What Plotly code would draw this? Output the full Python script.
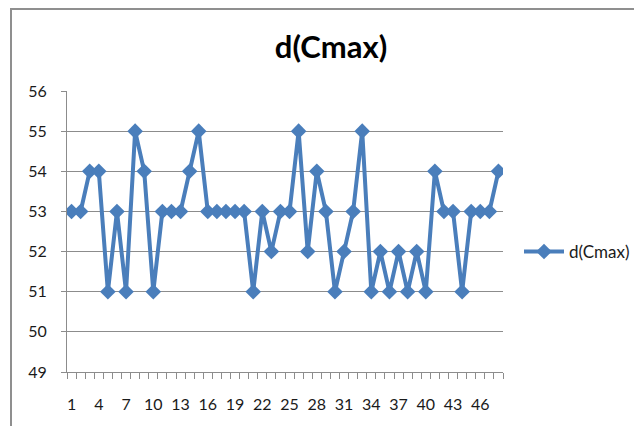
import plotly.graph_objects as go

title_text = "d(Cmax)"
series_name = "d(Cmax)"
categories = list(range(1, 49))
values = [53, 53, 54, 54, 51, 53, 51, 55, 54, 51,
          53, 53, 53, 54, 55, 53, 53, 53, 53, 53,
          51, 53, 52, 53, 53, 55, 52, 54, 53, 51,
          52, 53, 55, 51, 52, 51, 52, 51, 52, 51,
          54, 53, 53, 51, 53, 53, 53, 54]
tick_labels = [str(c) for c in categories[::3]]
y_ticks = [49, 50, 51, 52, 53, 54, 55, 56]

FONT = "Lato"
BLUE = "#4A7EBB"
GRID = "#8C8C8C"

OFF = 8  # page body margin
W, H = 642 - 2 * OFF, 434 - 2 * OFF
L, R, T, B = 67 - OFF, W - (503 - OFF), 91 - OFF, H - (372 - OFF)
pw, ph = W - L - R, H - T - B

def px_x(p):
    return (p - OFF - L) / pw

def px_y(p):
    return (H - B - (p - OFF)) / ph

fig = go.Figure()
fig.add_trace(go.Scatter(
    x=categories, y=values, name=series_name, mode="lines+markers",
    line=dict(color=BLUE, width=4),
    marker=dict(symbol="diamond", size=12, color=BLUE),
))

n = len(categories)
boundaries = [c - 0.5 for c in categories] + [categories[-1] + 0.5]

fig.update_layout(
    width=W, height=H,
    margin=dict(l=L, r=R, t=T, b=B),
    paper_bgcolor="white", plot_bgcolor="white",
    font=dict(family=FONT, size=16, color="#1a1a1a"),
    title=dict(text="<b>" + title_text + "</b>", x=(331 - OFF) / W, xanchor="center",
               y=1 - (47 - OFF) / H, yanchor="middle", yref="container",
               font=dict(family=FONT, size=31, color="#000000")),
    showlegend=True,
    legend=dict(xref="container", yref="container",
                x=(519 - OFF) / W, y=1 - (252 - OFF) / H,
                xanchor="left", yanchor="middle",
                itemwidth=40,
                font=dict(family=FONT, size=17, color="#1a1a1a"),
                bgcolor="rgba(0,0,0,0)"),
    xaxis=dict(
        range=[0.5, n + 0.5], showgrid=False, zeroline=False,
        showline=True, linecolor=GRID, linewidth=1,
        tickmode="array", tickvals=categories[::3], ticktext=tick_labels,
        ticks="", ticklabelstandoff=18,
        minor=dict(tickmode="array", tickvals=boundaries, ticks="outside",
                   ticklen=6, tickcolor=GRID, showgrid=False),
    ),
    yaxis=dict(
        range=[49, 56], tickvals=y_ticks, showgrid=True, gridcolor=GRID,
        gridwidth=1, zeroline=False, showline=True, linecolor=GRID,
        linewidth=1, ticks="outside", ticklen=5, tickcolor=GRID,
        ticklabelstandoff=11,
    ),
    shapes=[dict(type="rect", xref="paper", yref="paper",
                 x0=px_x(11), x1=px_x(700), y0=px_y(480), y1=px_y(9),
                 line=dict(color="#8F8F8F", width=2), fillcolor="rgba(0,0,0,0)",
                 layer="below")],
)

fig.write_html("out.html")
